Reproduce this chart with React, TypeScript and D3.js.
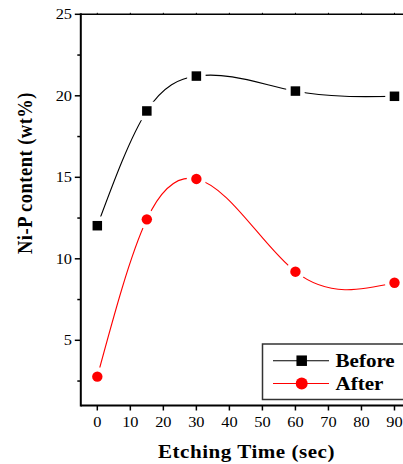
import React from "react";
import * as d3 from "d3";

const times = [0, 15, 30, 60, 90];
const before = [12.03, 19.07, 21.21, 20.29, 19.97];
const after = [2.77, 12.42, 14.9, 9.21, 8.53];
const xTicks = [0, 10, 20, 30, 40, 50, 60, 70, 80, 90];
const yMajor = [5, 10, 15, 20, 25];
const yMinor = [2.5, 7.5, 12.5, 17.5, 22.5];
const seriesNames = ["Before", "After"];

const W = 403;
const H = 464;
const S = 1.17; // horizontal text stretch
const FONT = "'Liberation Serif', 'Times New Roman', serif";

// natural cubic spline y(x): returns second derivatives
function naturalM(xs: number[], ys: number[]) {
  const n = xs.length;
  const M = new Array(n).fill(0);
  if (n < 3) return M;
  const h = xs.slice(1).map((v, i) => v - xs[i]);
  const a: number[] = [], b: number[] = [], c: number[] = [], d: number[] = [];
  for (let i = 1; i < n - 1; i++) {
    a.push(h[i - 1]);
    b.push(2 * (h[i - 1] + h[i]));
    c.push(h[i]);
    d.push(6 * ((ys[i + 1] - ys[i]) / h[i] - (ys[i] - ys[i - 1]) / h[i - 1]));
  }
  const m = b.length;
  for (let i = 1; i < m; i++) {
    const w = a[i] / b[i - 1];
    b[i] -= w * c[i - 1];
    d[i] -= w * d[i - 1];
  }
  const sol = new Array(m).fill(0);
  sol[m - 1] = d[m - 1] / b[m - 1];
  for (let i = m - 2; i >= 0; i--) sol[i] = (d[i] - c[i] * sol[i + 1]) / b[i];
  for (let i = 0; i < m; i++) M[i + 1] = sol[i];
  return M;
}

function splinePath(
  xs: number[],
  ys: number[],
  sx: (v: number) => number,
  sy: (v: number) => number
) {
  const M = naturalM(xs, ys);
  const n = xs.length;
  const p = d3.path();
  p.moveTo(sx(xs[0]), sy(ys[0]));
  for (let i = 0; i < n - 1; i++) {
    const h = xs[i + 1] - xs[i];
    const s = (ys[i + 1] - ys[i]) / h;
    const m0 = s - (h * (2 * M[i] + M[i + 1])) / 6;
    const m1 = s + (h * (M[i] + 2 * M[i + 1])) / 6;
    p.bezierCurveTo(
      sx(xs[i] + h / 3),
      sy(ys[i] + (m0 * h) / 3),
      sx(xs[i + 1] - h / 3),
      sy(ys[i + 1] - (m1 * h) / 3),
      sx(xs[i + 1]),
      sy(ys[i + 1])
    );
  }
  return p.toString();
}

export default function App() {
  const x = d3.scaleLinear().domain([-5, 95]).range([80.8, 411]);
  const y = d3.scaleLinear().domain([1, 25]).range([405.5, 14.3]);
  const bPts = times.map((t, i) => [t, before[i]] as [number, number]);
  const aPts = times.map((t, i) => [t, after[i]] as [number, number]);
  const x0 = x(-5);
  const yb = y(1);
  const yt = y(25);
  const sq = 9.5;
  const r = 5.2;
  const halo = 4.5;

  const stretchText = (
    tx: number,
    ty: number,
    content: string,
    props: any,
    key?: any
  ) => (
    <text key={key} transform={`translate(${tx},${ty}) scale(${S},1)`} {...props}>
      {content}
    </text>
  );

  return (
    <svg
      width={W}
      height={H}
      style={{ position: "absolute", left: 0, top: 0, background: "#fff" }}
      fontFamily={FONT}
    >
      <rect x={0} y={0} width={W} height={H} fill="#fff" />
      {/* curves */}
      <path d={splinePath(times, before, x, y)} fill="none" stroke="#000" strokeWidth={1.1} />
      <path d={splinePath(times, after, x, y)} fill="none" stroke="#ff0000" strokeWidth={1.1} />
      {/* halos */}
      {bPts.map((p, i) => (
        <rect
          key={"hb" + i}
          x={x(p[0]) - sq / 2 - halo}
          y={y(p[1]) - sq / 2 - halo}
          width={sq + 2 * halo}
          height={sq + 2 * halo}
          fill="#fff"
        />
      ))}
      {aPts.map((p, i) => (
        <circle key={"ha" + i} cx={x(p[0])} cy={y(p[1])} r={r + halo} fill="#fff" />
      ))}
      {bPts.map((p, i) => (
        <rect
          key={"b" + i}
          x={x(p[0]) - sq / 2}
          y={y(p[1]) - sq / 2}
          width={sq}
          height={sq}
          fill="#000"
        />
      ))}
      {aPts.map((p, i) => (
        <circle key={"a" + i} cx={x(p[0])} cy={y(p[1])} r={r} fill="#ff0000" />
      ))}

      {/* axes */}
      <line x1={x0} x2={W} y1={yb} y2={yb} stroke="#000" strokeWidth={2} />
      <line x1={x0} x2={W} y1={yt} y2={yt} stroke="#000" strokeWidth={1.6} />
      <line x1={x0} x2={x0} y1={yt - 1} y2={yb + 1} stroke="#000" strokeWidth={2} />
      {xTicks.map((t) => (
        <g key={"xt" + t}>
          <line x1={x(t)} x2={x(t)} y1={yb} y2={yb + 5} stroke="#000" strokeWidth={1.5} />
          <line x1={x(t)} x2={x(t)} y1={yt} y2={yt - 1.5} stroke="#000" strokeWidth={1} />
          {stretchText(x(t), 427, String(t), {
            fontSize: 14,
            textAnchor: "middle",
            fill: "#000",
          })}
        </g>
      ))}
      {yMajor.map((t) => (
        <g key={"ym" + t}>
          <line x1={x0 - 6} x2={x0} y1={y(t)} y2={y(t)} stroke="#000" strokeWidth={1.5} />
          {stretchText(72, y(t) + 5, String(t), {
            fontSize: 14,
            textAnchor: "end",
            fill: "#000",
          })}
        </g>
      ))}
      {yMinor.map((t) => (
        <line key={"yn" + t} x1={x0 - 3.5} x2={x0} y1={y(t)} y2={y(t)} stroke="#000" strokeWidth={1.5} />
      ))}

      {/* axis titles */}
      {stretchText(246.5, 457.5, "Etching Time (sec)", {
        fontSize: 18,
        fontWeight: "bold",
        textAnchor: "middle",
        fill: "#000",
        letterSpacing: 0.45,
      })}
      <text
        transform={`translate(32,173) scale(${S},1) rotate(-90)`}
        fontSize={18.5}
        fontWeight="bold"
        textAnchor="middle"
        fill="#000"
        letterSpacing={0.5}
      >
        Ni-P content (wt%)
      </text>

      {/* legend */}
      <rect x={262.5} y={344} width={160} height={55.5} fill="#fff" stroke="#333" strokeWidth={1.5} />
      <line x1={273} x2={329} y1={360.7} y2={360.7} stroke="#000" strokeWidth={1.1} />
      <rect x={301.7 - sq / 2 - 0.5} y={360.7 - sq / 2 - 0.5} width={sq + 1} height={sq + 1} fill="#000" />
      {stretchText(335.5, 367, seriesNames[0], { fontSize: 18, fontWeight: "bold", fill: "#000" })}
      <line x1={273} x2={329} y1={383.5} y2={383.5} stroke="#ff0000" strokeWidth={1.1} />
      <circle cx={301.7} cy={383.5} r={6} fill="#ff0000" />
      {stretchText(335.5, 390, seriesNames[1], { fontSize: 18, fontWeight: "bold", fill: "#000" })}
    </svg>
  );
}
